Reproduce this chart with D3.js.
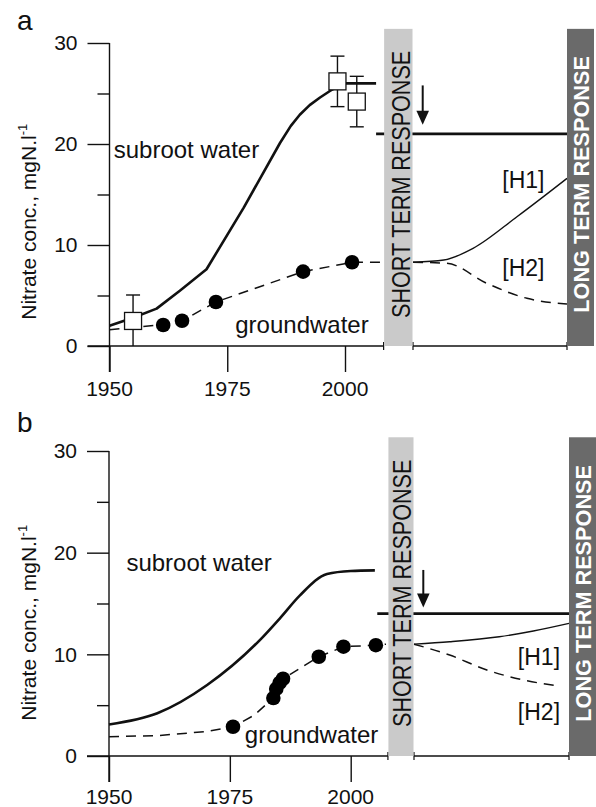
<!DOCTYPE html>
<html><head><meta charset="utf-8">
<script src="https://cdn.jsdelivr.net/npm/d3@7/dist/d3.min.js"></script>
<style>
body{margin:0;background:#fff}
svg{display:block}
text{font-family:"Liberation Sans", Arial, Helvetica, sans-serif;fill:#111}
</style>
</head><body>
<svg id="chart" width="596" height="807"></svg>
<script>
// ---------- shared labels / ticks ----------
const panelLabels = ["a", "b"];
const yTicksMajor = [0, 10, 20, 30];
const yTicksMinor = [5, 15, 25];
const xTickYears = [1950, 1975, 2000];
const yAxisLabel = "Nitrate conc., mgN.l";
const yAxisLabelSup = "-1";
const shortTermLabel = "SHORT TERM RESPONSE";
const longTermLabel = "LONG TERM RESPONSE";
const seriesLabels = ["subroot water", "groundwater"];
const hypothesisLabels = ["[H1]", "[H2]"];

// ---------- panel a ----------
const aSubrootYears  = [1950, 1955, 1960, 1965, 1970.6, 1978.5, 1986.2, 1988.5, 1990.4, 1992.5, 1994.7, 1996.8, 1998.5, 2000, 2006.6];
const aSubrootValues = [2.0, 2.8, 3.7, 5.5, 7.6, 13.7, 20.1, 21.8, 22.9, 23.85, 24.6, 25.25, 25.7, 26.0, 26.0];
const aGroundLineYears  = [1950, 1955, 1961.4, 1965.4, 1972.6, 1991.1, 2001.5, 2008];
const aGroundLineValues = [1.6, 1.85, 2.1, 2.5, 4.36, 7.36, 8.29, 8.29];
const aDotYears  = [1961.4, 1965.4, 1972.6, 1991.1, 2001.5];
const aDotValues = [2.08, 2.5, 4.36, 7.36, 8.29];
const aSquareYears  = [1955, 1998.4, 2002.5];
const aSquareValues = [2.48, 26.2, 24.2];
const aSquareLow    = [0, 23.7, 21.7];
const aSquareHigh   = [5.05, 28.7, 26.7];
const aTarget = 21;
const aH1Steps  = [0, 0.2, 0.39, 0.675, 1];
const aH1Values = [8.29, 8.51, 9.67, 12.8, 16.6];
const aH2Steps  = [0, 0.22, 0.48, 0.74, 1];
const aH2Values = [8.29, 8.19, 6.2, 4.72, 4.16];

// ---------- panel b ----------
const bSubrootYears  = [1950, 1960, 1970.3, 1981.2, 1985.4, 1989.5, 1995.1, 2000, 2005];
const bSubrootValues = [3.1, 4.2, 6.98, 11.4, 13.57, 15.8, 17.9, 18.2, 18.26];
const bGroundLineYears  = [1950, 1960, 1970, 1975.65, 1980, 1984.0, 1986.0, 1993.4, 1998.5, 2005.2, 2007.3];
const bGroundLineValues = [1.9, 2.0, 2.4, 2.88, 4.0, 5.7, 7.6, 9.76, 10.75, 10.9, 11.0];
const bDotYears  = [1975.65, 1984.0, 1984.6, 1985.3, 1986.0, 1993.4, 1998.5, 2005.2];
const bDotValues = [2.88, 5.7, 6.6, 7.2, 7.6, 9.76, 10.75, 10.9];
const bTarget = 14;
const bH1Steps  = [0, 0.23, 0.55, 0.77, 1];
const bH1Values = [11.0, 11.24, 11.73, 12.3, 13.05];
const bH2Steps  = [0, 0.23, 0.47, 0.73, 0.94];
const bH2Values = [11.0, 9.93, 8.46, 7.4, 6.88];

// ---------- drawing ----------
const svg = d3.select("#chart");

const panels = [
  {
    label: panelLabels[0], labelPos: [17, 30],
    x: d3.scaleLinear().domain([1950, 2000]).range([109.5, 345]),
    y: d3.scaleLinear().domain([0, 30]).range([346, 43]),
    p: d3.scaleLinear().domain([0, 1]).range([413, 567]),
    xEndYear: 2008.2, topVal: 31.4,
    subroot: [aSubrootYears, aSubrootValues], subCurve: d3.curveLinear,
    ground: [aGroundLineYears, aGroundLineValues],
    dots: [aDotYears, aDotValues],
    squares: {years: aSquareYears, vals: aSquareValues, lo: aSquareLow, hi: aSquareHigh},
    target: aTarget, targetStartYear: 2006.6,
    h1: [aH1Steps, aH1Values], h2: [aH2Steps, aH2Values],
    arrow: {step: 0.063, from: 25.8, to: 21.9},
    subLabel: {year: 1950.9, val: 18.6}, gwLabel: {year: 1976.7, val: 1.25},
    h1Label: {step: 0.58, val: 15.6}, h2Label: {step: 0.58, val: 6.9},
    yLabelVal: 12.3, xLabelBase: 396, darkRight: 594
  },
  {
    label: panelLabels[1], labelPos: [17, 432],
    x: d3.scaleLinear().domain([1950, 2000]).range([109, 350.7]),
    y: d3.scaleLinear().domain([0, 30]).range([756, 451]),
    p: d3.scaleLinear().domain([0, 1]).range([414, 569]),
    xEndYear: 2007.7, topVal: 31.35,
    subroot: [bSubrootYears, bSubrootValues], subCurve: d3.curveMonotoneX,
    ground: [bGroundLineYears, bGroundLineValues],
    dots: [bDotYears, bDotValues],
    squares: null,
    target: bTarget, targetStartYear: 2005.5,
    h1: [bH1Steps, bH1Values], h2: [bH2Steps, bH2Values],
    arrow: {step: 0.06, from: 18.3, to: 14.6},
    subLabel: {year: 1953.6, val: 18.2}, gwLabel: {year: 1978.1, val: 1.25},
    h1Label: {step: 0.67, val: 9.0}, h2Label: {step: 0.67, val: 3.5},
    yLabelVal: 13.1, xLabelBase: 804, darkRight: 596
  }
];

function zip(a, b) { return a.map((v, i) => [v, b[i]]); }

panels.forEach(P => {
  const g = svg.append("g");
  const {x, y, p} = P;
  const y0 = y(0);
  const axisLeftX = x(1950);

  // panel letter
  g.append("text").attr("x", P.labelPos[0]).attr("y", P.labelPos[1])
    .attr("font-size", 28).text(P.label);

  // y axis major
  const yAx = g.append("g").attr("transform", `translate(${axisLeftX},0)`)
    .call(d3.axisLeft(y).tickValues(yTicksMajor).tickSize(22).tickSizeOuter(0).tickPadding(10));
  yAx.select(".domain").attr("stroke", "#111").attr("stroke-width", 1.4)
     .attr("d", `M0,${y(30)}V${y0 + 26}`);
  yAx.selectAll(".tick line").attr("stroke", "#111").attr("stroke-width", 1.4);
  yAx.selectAll(".tick text").attr("font-size", 21).attr("fill", "#111")
     .attr("font-family", "'Liberation Sans', Arial, sans-serif");
  // minor
  const yMin = g.append("g").attr("transform", `translate(${axisLeftX},0)`)
    .call(d3.axisLeft(y).tickValues(yTicksMinor).tickSize(12).tickSizeOuter(0).tickFormat(""));
  yMin.select(".domain").remove();
  yMin.selectAll(".tick line").attr("stroke", "#111").attr("stroke-width", 1.4);

  // x axis
  const xAx = g.append("g").attr("transform", `translate(0,${y0})`)
    .call(d3.axisBottom(x).tickValues(xTickYears).tickSize(26).tickSizeOuter(0).tickFormat(""));
  xAx.select(".domain").remove();
  xAx.selectAll(".tick line").attr("stroke", "#111").attr("stroke-width", 1.4);
  g.selectAll(".xlab").data(xTickYears).join("text")
    .attr("x", d => x(d)).attr("y", P.xLabelBase)
    .attr("text-anchor", "middle").attr("font-size", 21).text(d => d);

  // axis line segments
  const segs = [[axisLeftX - 22, x(P.xEndYear)], [p(0), p(1)]];
  segs.forEach(([a, b], i) => {
    g.append("line").attr("x1", a).attr("x2", b).attr("y1", y0).attr("y2", y0)
      .attr("stroke", "#111").attr("stroke-width", 1.4);
    const ends = i === 0 ? [b] : [a, b];
    ends.forEach(e => g.append("line").attr("x1", e).attr("x2", e)
      .attr("y1", y0 - 4).attr("y2", y0 + 4).attr("stroke", "#111").attr("stroke-width", 1.2));
  });

  // y axis label
  const yl = g.append("text")
    .attr("transform", `translate(36,${y(P.yLabelVal)}) rotate(-90)`)
    .attr("text-anchor", "middle").attr("font-size", 21);
  yl.append("tspan").text(yAxisLabel);
  yl.append("tspan").attr("font-size", 13).attr("dy", -9).text(yAxisLabelSup);

  const lineY = d3.line().x(d => x(d[0])).y(d => y(d[1]));
  const lineP = d3.line().x(d => p(d[0])).y(d => y(d[1])).curve(d3.curveMonotoneX);

  // groundwater dashed
  g.append("path").attr("d", lineY(zip(P.ground[0], P.ground[1])))
    .attr("fill", "none").attr("stroke", "#111").attr("stroke-width", 1.5)
    .attr("stroke-dasharray", "10,7");
  // subroot solid
  g.append("path").attr("d", d3.line().x(d => x(d[0])).y(d => y(d[1])).curve(P.subCurve)(zip(P.subroot[0], P.subroot[1])))
    .attr("fill", "none").attr("stroke", "#111").attr("stroke-width", 2.6)
    .attr("stroke-linejoin", "round");

  // target level line
  g.append("line").attr("x1", x(P.targetStartYear)).attr("x2", p(1))
    .attr("y1", y(P.target)).attr("y2", y(P.target))
    .attr("stroke", "#111").attr("stroke-width", 2.6);

  // hypotheses
  g.append("path").attr("d", lineP(zip(P.h1[0], P.h1[1])))
    .attr("fill", "none").attr("stroke", "#111").attr("stroke-width", 1.4);
  g.append("path").attr("d", lineP(zip(P.h2[0], P.h2[1])))
    .attr("fill", "none").attr("stroke", "#111").attr("stroke-width", 1.5)
    .attr("stroke-dasharray", "10,7");

  // dots
  g.selectAll(".dot").data(zip(P.dots[0], P.dots[1])).join("circle")
    .attr("cx", d => x(d[0])).attr("cy", d => y(d[1])).attr("r", 7.3).attr("fill", "#000");

  // squares with error bars
  if (P.squares) {
    const S = P.squares;
    S.years.forEach((yr, i) => {
      const cx = x(yr);
      g.append("line").attr("x1", cx).attr("x2", cx).attr("y1", y(S.lo[i])).attr("y2", y(S.hi[i]))
        .attr("stroke", "#111").attr("stroke-width", 1.4);
      [S.lo[i], S.hi[i]].forEach(v => {
        if (v > 0) g.append("line").attr("x1", cx - 7).attr("x2", cx + 7).attr("y1", y(v)).attr("y2", y(v))
          .attr("stroke", "#111").attr("stroke-width", 1.4);
      });
      g.append("rect").attr("x", cx - 8.5).attr("y", y(S.vals[i]) - 8.5).attr("width", 17).attr("height", 17)
        .attr("fill", "#fff").attr("stroke", "#111").attr("stroke-width", 1.3);
    });
  }

  // arrow
  const ax = p(P.arrow.step);
  g.append("line").attr("x1", ax).attr("x2", ax).attr("y1", y(P.arrow.from)).attr("y2", y(P.arrow.to) - 10)
    .attr("stroke", "#111").attr("stroke-width", 2);
  g.append("path").attr("d", `M${ax - 6.3},${y(P.arrow.to) - 14}L${ax + 6.3},${y(P.arrow.to) - 14}L${ax},${y(P.arrow.to)}Z`)
    .attr("fill", "#111");

  // short term bar
  const sx0 = x(P.xEndYear) + 0.5, sx1 = p(0) - 0.5;
  const top = y(P.topVal);
  g.append("rect").attr("x", sx0).attr("y", top).attr("width", sx1 - sx0).attr("height", y0 - top)
    .attr("fill", "#cacaca");
  g.append("text").attr("transform", `translate(${sx1 - 3},${y(16)}) rotate(-90) scale(0.83,1)`)
    .attr("text-anchor", "middle").attr("font-size", 26).attr("fill", "#222")
    .text(shortTermLabel);

  // long term bar
  const lx0 = p(1);
  g.append("rect").attr("x", lx0).attr("y", top).attr("width", P.darkRight - lx0).attr("height", y0 - top)
    .attr("fill", "#6a6a6a");
  g.append("text").attr("transform", `translate(${lx0 + 22},${y(16)}) rotate(-90)`)
    .attr("text-anchor", "middle").attr("font-size", 21.7).attr("font-weight", "bold")
    .style("fill", "#fff")
    .text(longTermLabel);

  // series labels
  g.append("text").attr("x", x(P.subLabel.year)).attr("y", y(P.subLabel.val))
    .attr("font-size", 24).text(seriesLabels[0]);
  g.append("text").attr("x", x(P.gwLabel.year)).attr("y", y(P.gwLabel.val))
    .attr("font-size", 24).text(seriesLabels[1]);
  g.append("text").attr("x", p(P.h1Label.step)).attr("y", y(P.h1Label.val))
    .attr("font-size", 23).text(hypothesisLabels[0]);
  g.append("text").attr("x", p(P.h2Label.step)).attr("y", y(P.h2Label.val))
    .attr("font-size", 23).text(hypothesisLabels[1]);
});
</script>
</body></html>
